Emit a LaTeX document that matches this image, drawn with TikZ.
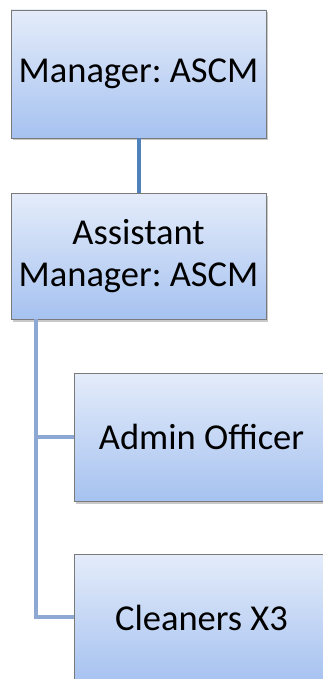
\documentclass[tikz,border=0pt]{standalone}
\usepackage{fontspec}
\setmainfont{Carlito}
\usetikzlibrary{shadows}
\definecolor{topc}{HTML}{E4ECFA}
\definecolor{botc}{HTML}{A6C2F0}
\definecolor{edgec}{HTML}{7A7A7A}
\definecolor{linkA}{HTML}{4F81BD}
\definecolor{linkB}{HTML}{8EA8D4}
\tikzset{
  orgbox/.style={draw=edgec, line width=0.8pt, top color=topc, bottom color=botc,
    minimum width=255pt, minimum height=128pt, inner sep=0pt, align=center,
    font=\fontsize{36.5}{42}\selectfont\frenchspacing,
    drop shadow={shadow xshift=1.5pt, shadow yshift=-2.5pt, opacity=0.35, fill=black!60}},
  linkmain/.style={draw=linkA, line width=4pt},
  linksub/.style={draw=linkB, line width=4pt}
}
\begin{document}
\begin{tikzpicture}[x=1pt,y=-1pt]
\useasboundingbox (0,0) rectangle (323,679);
\clip (0,0) rectangle (323,679);
\fill[white] (0,0) rectangle (323,679);
\coordinate (c1) at (36,437);
\coordinate (c2) at (36,617);
\node[orgbox] (mgr) at (138.5,74) {Manager: ASCM};
\node[orgbox, minimum height=126pt] (asst) at (138.5,256) {Assistant\\Manager: ASCM};
\node[orgbox] (admin) at (201.5,437) {Admin Officer};
\node[orgbox] (clean) at (201.5,618) {Cleaners X3};
\draw[linkmain] (mgr.south) -- (asst.north);
\draw[linksub] (asst.south -| c1) -- (c2) -- (c2 -| clean.west);
\draw[linksub] (c1) -- (c1 -| admin.west);
\end{tikzpicture}
\end{document}
